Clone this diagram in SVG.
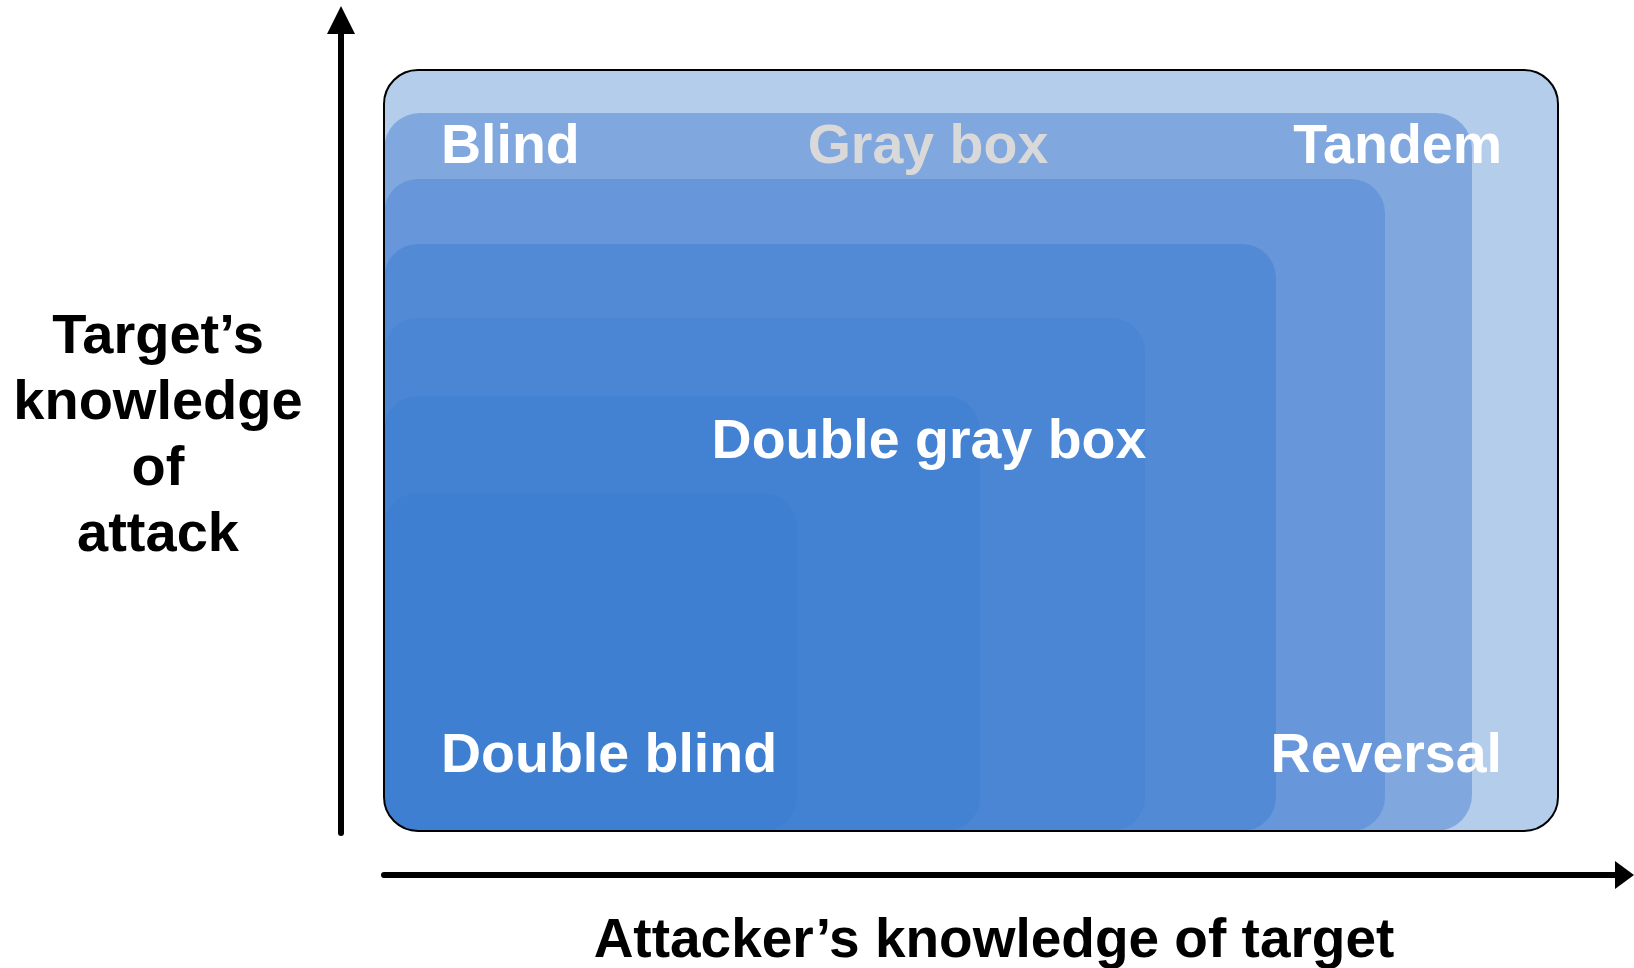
<svg xmlns="http://www.w3.org/2000/svg" width="1634" height="968" viewBox="0 0 1634 968">
<style>
.lbl{font-family:"Liberation Sans",Arial,sans-serif;font-weight:bold;font-size:55.5px;fill:#ffffff}
.axis{font-family:"Liberation Sans",Arial,sans-serif;font-weight:bold;font-size:55px;fill:#000000}
.ax{stroke:#000;stroke-width:6;stroke-linecap:round;fill:none}
</style>
<rect width="1634" height="968" fill="#ffffff"/>
<g id="tandem"><rect x="384" y="70" width="1174" height="761" rx="34" fill="#B3CDEB"/></g>
<g id="blind"><rect x="384" y="113" width="1088" height="718" rx="36" fill="#80A7DE"/></g>
<g id="graybox"><rect x="384" y="179" width="1001" height="652" rx="34" fill="#6797DA"/></g>
<g id="level4"><rect x="384" y="244" width="892" height="587" rx="34" fill="#528AD6"/></g>
<g id="doublegraybox"><rect x="384" y="318" width="761" height="513" rx="34" fill="#4A86D4"/></g>
<g id="level6"><rect x="384" y="396" width="596" height="435" rx="34" fill="#4382D3"/></g>
<g id="doubleblind"><rect x="384" y="493" width="413" height="338" rx="34" fill="#3E7FD2"/></g>
<g id="frame"><rect x="384" y="70" width="1174" height="761" rx="34" fill="none" stroke="#000" stroke-width="2"/></g>
<g id="labels">
<text class="lbl" x="441" y="163">Blind</text>
<text class="lbl" x="928" y="163" text-anchor="middle" style="fill:#D9D9D9">Gray box</text>
<text class="lbl" x="1502" y="163" text-anchor="end">Tandem</text>
<text class="lbl" x="929" y="458" text-anchor="middle">Double gray box</text>
<text class="lbl" x="441" y="772">Double blind</text>
<text class="lbl" x="1502" y="772" text-anchor="end">Reversal</text>
</g>
<g id="connectors">
<line class="ax" x1="341" y1="833" x2="341" y2="30"/>
<polygon points="341,6 327,34 355,34" fill="#000"/>
<line class="ax" x1="384" y1="875" x2="1620" y2="875"/>
<polygon points="1634,875 1615,861 1615,889" fill="#000"/>
</g>
<g id="axis-labels">
<text class="axis" x="158" y="353" text-anchor="middle" style="font-size:56px">Target’s</text>
<text class="axis" x="158" y="419" text-anchor="middle" style="font-size:56px">knowledge</text>
<text class="axis" x="158" y="485" text-anchor="middle" style="font-size:56px">of</text>
<text class="axis" x="158" y="551" text-anchor="middle" style="font-size:56px">attack</text>
<text class="axis" x="994" y="957" text-anchor="middle">Attacker’s knowledge of target</text>
</g>
</svg>
